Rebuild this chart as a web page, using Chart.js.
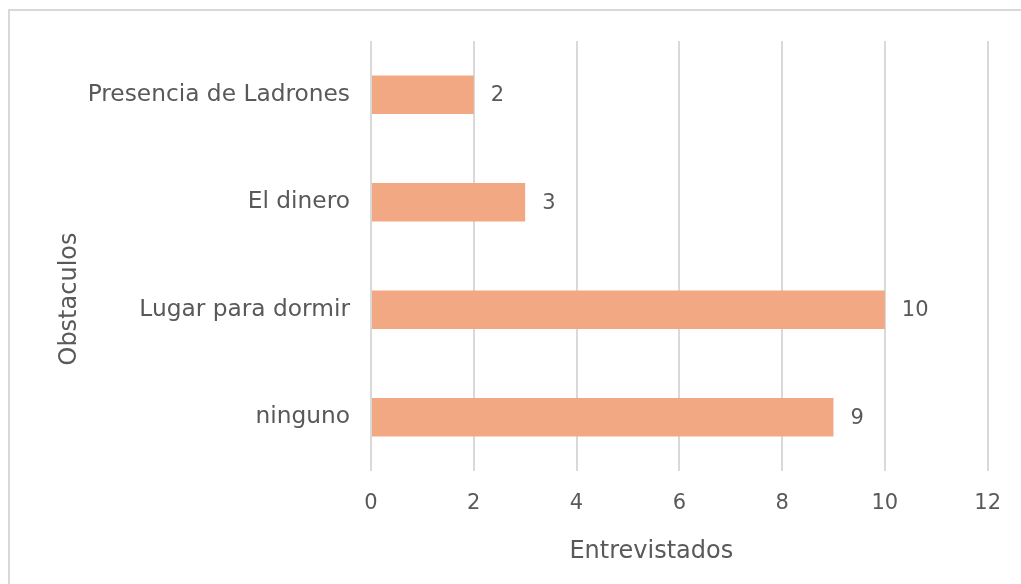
<!DOCTYPE html>
<html>
<head>
<meta charset="utf-8">
<script src="https://cdn.jsdelivr.net/npm/chart.js@4/dist/chart.umd.min.js"></script>
<style>
	html, body { margin: 0; padding: 0; background: #fff; overflow: hidden; }
	#wrap { position: relative; width: 1021px; height: 584px; }
	#frame {
		position: absolute; left: 8px; top: 9px; width: 1100px; height: 700px;
		border: 2px solid #d9d9d9; box-sizing: border-box;
	}
	canvas { position: absolute; left: 0; top: 0; }
</style>
</head>
<body>
<div id="wrap">
	<div id="frame"></div>
	<canvas id="chart" width="1021" height="584"></canvas>
</div>
<script>
const categories = ['Presencia de Ladrones', 'El dinero', 'Lugar para dormir', 'ninguno'];
const entrevistados = [2, 3, 10, 9];
const xMin = 0;
const xMax = 12;
const xStep = 2;
const xTitle = 'Entrevistados';
const yTitle = 'Obstaculos';

const textColor = '#595959';
const gridColor = '#d9d9d9';
const barColor = '#f2a983';
const fontFamily = "'DejaVu Sans', sans-serif";

// value labels to the right of each bar
const barValueLabels = {
	id: 'barValueLabels',
	afterDatasetsDraw(chart) {
		const { ctx } = chart;
		const meta = chart.getDatasetMeta(0);
		ctx.save();
		ctx.fillStyle = textColor;
		ctx.font = '21px ' + fontFamily;
		ctx.textAlign = 'left';
		ctx.textBaseline = 'middle';
		meta.data.forEach((bar, i) => {
			ctx.fillText(String(entrevistados[i]), bar.x + 17, bar.y + 1);
		});
		ctx.restore();
	},
};

// axis titles placed like the original (not centred on the plot)
const axisTitles = {
	id: 'axisTitles',
	afterDraw(chart) {
		const { ctx, chartArea } = chart;
		ctx.save();
		ctx.fillStyle = textColor;
		ctx.font = '24px ' + fontFamily;
		ctx.textAlign = 'center';
		ctx.textBaseline = 'middle';
		ctx.fillText(xTitle, (chartArea.left + chartArea.right) / 2 - 28, 552);
		ctx.translate(70, (chartArea.top + chartArea.bottom) / 2 + 43);
		ctx.rotate(-Math.PI / 2);
		ctx.fillText(yTitle, 0, 0);
		ctx.restore();
	},
};

new Chart(document.getElementById('chart'), {
	type: 'bar',
	data: {
		labels: categories,
		datasets: [
			{
				label: xTitle,
				data: entrevistados,
				backgroundColor: barColor,
				borderWidth: 0,
				categoryPercentage: 1,
				barPercentage: 0.36,
			},
		],
	},
	options: {
		indexAxis: 'y',
		responsive: false,
		animation: false,
		devicePixelRatio: 1,
		layout: { padding: { top: 41, right: 32, left: 0, bottom: 0 } },
		plugins: {
			legend: { display: false },
			tooltip: { enabled: false },
		},
		scales: {
			x: {
				min: xMin,
				max: xMax,
				ticks: {
					stepSize: xStep,
					color: textColor,
					font: { family: fontFamily, size: 21 },
					padding: 20,
				},
				grid: { color: gridColor, lineWidth: 2, drawTicks: false },
				border: { display: false },
				afterFit(scale) {
					scale.height = 113;
				},
			},
			y: {
				ticks: {
					color: textColor,
					font: { family: fontFamily, size: 23.3 },
					padding: 21,
				},
				grid: { display: false, drawTicks: false },
				border: { display: false },
				afterFit(scale) {
					scale.width = 371;
				},
			},
		},
	},
	plugins: [barValueLabels, axisTitles],
});
</script>
</body>
</html>
